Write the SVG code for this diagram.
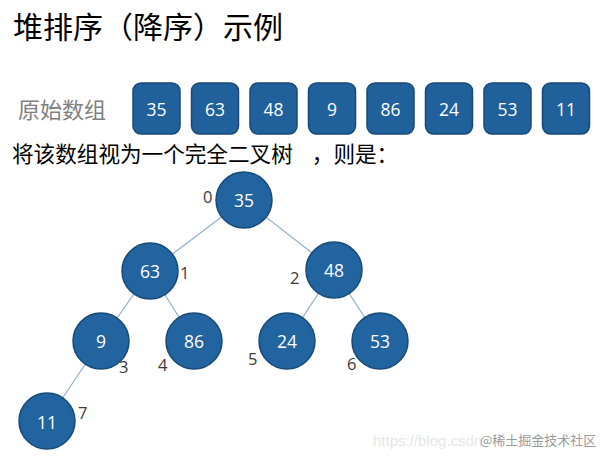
<svg xmlns="http://www.w3.org/2000/svg" width="605" height="461" viewBox="0 0 605 461">
<style>
.cjk{font-family:"Noto Sans CJK SC","Noto Sans",sans-serif;}
.box{fill:#20609b;stroke:#174a78;stroke-width:1.5;}
.bt{font-family:"Open Sans","Liberation Sans",sans-serif;font-size:17.5px;fill:#ffffff;text-anchor:middle;dominant-baseline:central;}
.node{fill:#21649f;stroke:#184a77;stroke-width:1.5;}
.nt{font-family:"Open Sans","Liberation Sans",sans-serif;font-size:17.5px;fill:#ffffff;text-anchor:middle;dominant-baseline:central;}
.idx{font-family:"Open Sans","Liberation Sans",sans-serif;font-size:16.5px;fill:#3a3a3a;}
.edge{stroke:#93b3cc;stroke-width:1.3;fill:none;}
</style>
<rect width="605" height="461" fill="#ffffff"/>
<text class="cjk" x="13" y="38" font-size="30" fill="#000">堆排序（降序）示例</text>
<text class="cjk" x="18" y="118" font-size="22" fill="#7f7f7f">原始数组</text>
<g id="array">
<rect class="box" x="133" y="83" width="47" height="51" rx="8"/><text class="bt" x="156.5" y="109">35</text>
<rect class="box" x="191.5" y="83" width="47" height="51" rx="8"/><text class="bt" x="215" y="109">63</text>
<rect class="box" x="250" y="83" width="47" height="51" rx="8"/><text class="bt" x="273.5" y="109">48</text>
<rect class="box" x="308.5" y="83" width="47" height="51" rx="8"/><text class="bt" x="332" y="109">9</text>
<rect class="box" x="367" y="83" width="47" height="51" rx="8"/><text class="bt" x="390.5" y="109">86</text>
<rect class="box" x="425.5" y="83" width="47" height="51" rx="8"/><text class="bt" x="449" y="109">24</text>
<rect class="box" x="484" y="83" width="47" height="51" rx="8"/><text class="bt" x="507.5" y="109">53</text>
<rect class="box" x="542.5" y="83" width="47" height="51" rx="8"/><text class="bt" x="566" y="109">11</text>
</g>
<text class="cjk" y="162" font-size="21.6" fill="#000"><tspan x="12">将该数组视为一个完全二叉树</tspan><tspan x="307"> ，则是：</tspan></text>
<g id="connectors">
<line class="edge" x1="244" y1="200" x2="150" y2="271"/>
<line class="edge" x1="244" y1="200" x2="334" y2="270"/>
<line class="edge" x1="150" y1="271" x2="101" y2="341"/>
<line class="edge" x1="150" y1="271" x2="194" y2="341"/>
<line class="edge" x1="334" y1="270" x2="287" y2="341"/>
<line class="edge" x1="334" y1="270" x2="380" y2="341"/>
<line class="edge" x1="101" y1="341" x2="47" y2="421"/>
</g>
<g id="n0"><circle class="node" cx="244" cy="200" r="28"/><text class="nt" x="244" y="200">35</text><text class="idx" x="203" y="203">0</text></g>
<g id="n1"><circle class="node" cx="150" cy="271" r="28"/><text class="nt" x="150" y="271">63</text><text class="idx" x="180" y="279">1</text></g>
<g id="n2"><circle class="node" cx="334" cy="270" r="28"/><text class="nt" x="334" y="270">48</text><text class="idx" x="290" y="284">2</text></g>
<g id="n3"><circle class="node" cx="101" cy="341" r="28"/><text class="nt" x="101" y="341">9</text><text class="idx" x="119" y="373">3</text></g>
<g id="n4"><circle class="node" cx="194" cy="341" r="28"/><text class="nt" x="194" y="341">86</text><text class="idx" x="158" y="371">4</text></g>
<g id="n5"><circle class="node" cx="287" cy="341" r="28"/><text class="nt" x="287" y="341">24</text><text class="idx" x="248" y="365">5</text></g>
<g id="n6"><circle class="node" cx="380" cy="341" r="28"/><text class="nt" x="380" y="341">53</text><text class="idx" x="347" y="370">6</text></g>
<g id="n7"><circle class="node" cx="47" cy="421" r="28"/><text class="nt" x="47" y="422">11</text><text class="idx" x="78" y="419">7</text></g>
<text x="373" y="446" font-family="Liberation Sans, sans-serif" font-size="15" fill="#e6e6e6">https://blog.csdn</text>
<text class="cjk" x="480" y="445" font-size="13" fill="#9a9a9a">@稀土掘金技术社区</text>
</svg>
